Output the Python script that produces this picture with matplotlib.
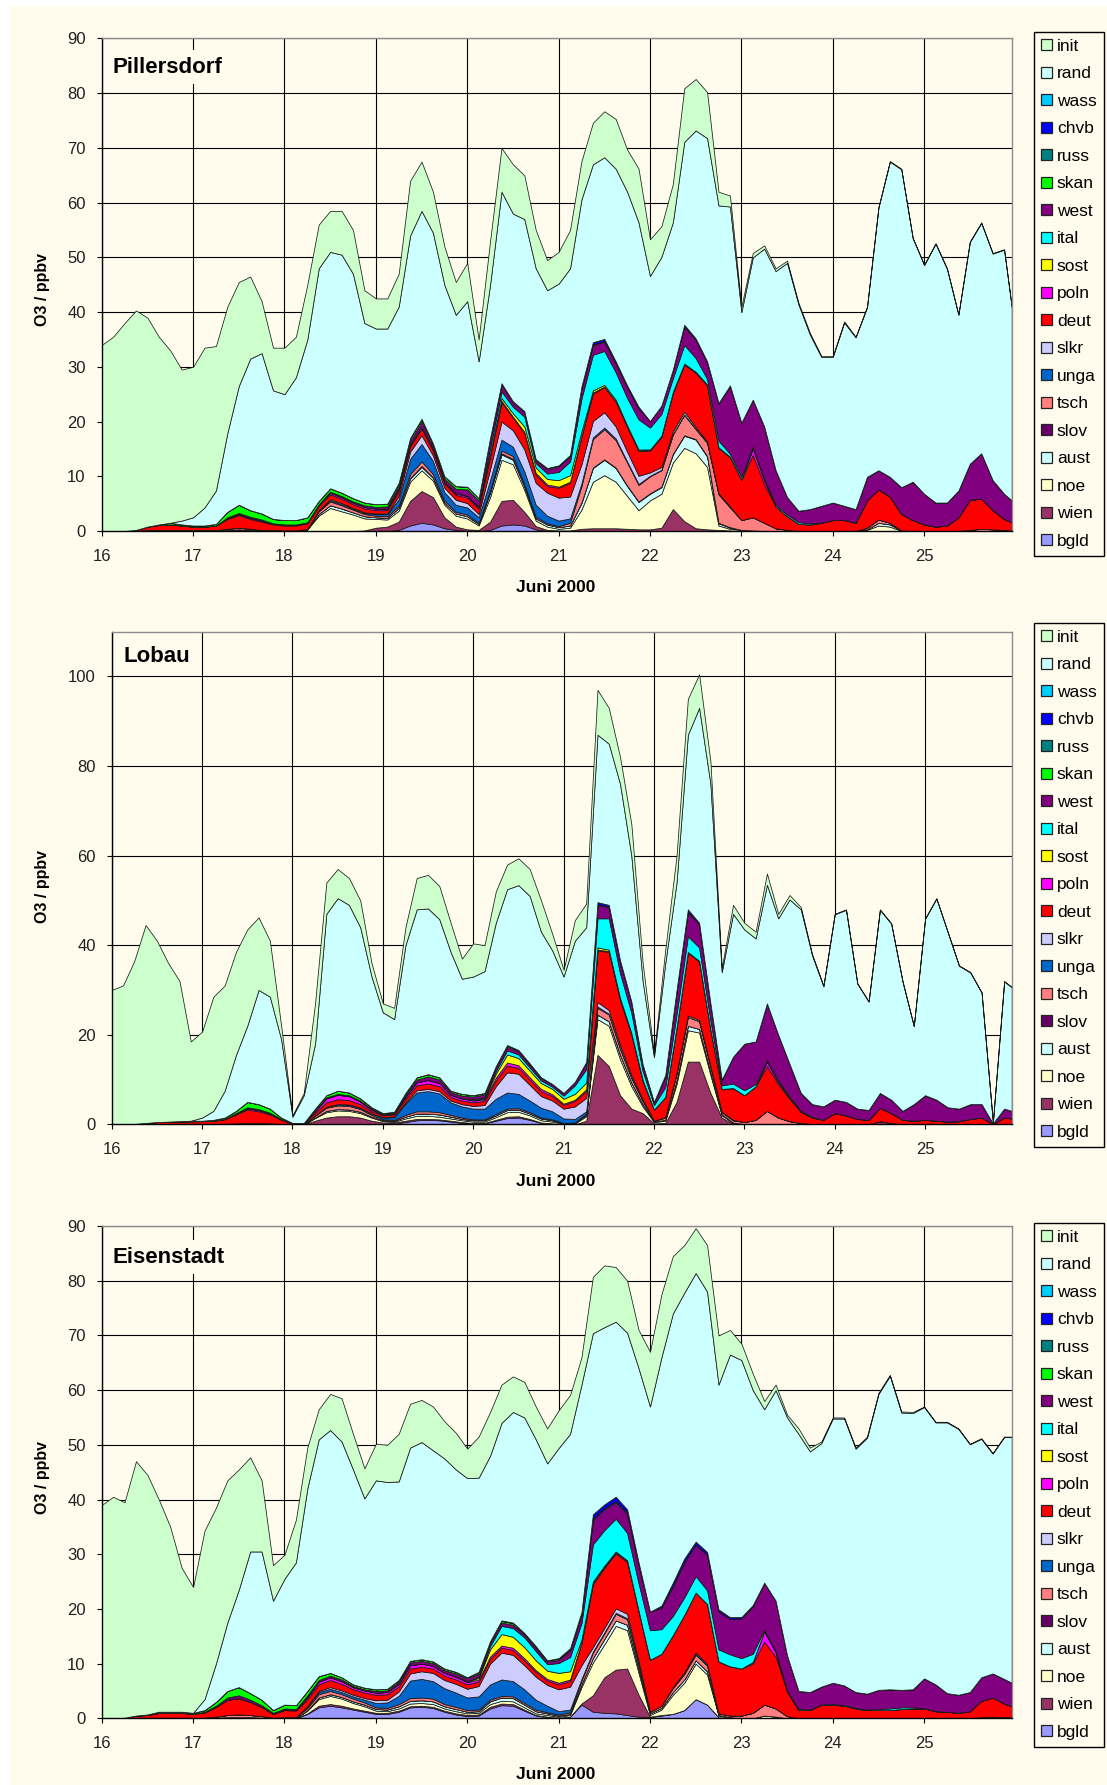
import numpy as np
import matplotlib
matplotlib.use("Agg")
import matplotlib.pyplot as plt
from matplotlib.patches import Patch, Rectangle

plt.rcParams['font.family'] = ['Liberation Sans', 'DejaVu Sans']

# ---------------- data ----------------
# samples every 3 hours from 16 June 00h to 25 June 23h
sample_hours = list(range(0, 240, 3)) + [239]
day_ticks = [16, 17, 18, 19, 20, 21, 22, 23, 24, 25]
legend_names = ['init', 'rand', 'wass', 'chvb', 'russ', 'skan', 'west', 'ital', 'sost',
                'poln', 'deut', 'slkr', 'unga', 'tsch', 'slov', 'aust', 'noe', 'wien', 'bgld']
legend_colors = ['#CCFFCC', '#CCFFFF', '#00CCFF', '#0000FF', '#008080', '#00FF00', '#800080',
                 '#00FFFF', '#FFFF00', '#FF00FF', '#FF0000', '#CCCCFF', '#0066CC', '#FF8080',
                 '#660066', '#CCFFFF', '#FFFFCC', '#993366', '#9999FF']
stations = ['Pillersdorf', 'Lobau', 'Eisenstadt']

# ---- Pillersdorf ----
p1_total = [34, 35.5, 38, 40.3, 39, 35.5, 33, 29.5,
            30, 33.5, 33.8, 41, 45.5, 46.5, 42, 33.5,
            33.5, 35.5, 45, 56, 58.5, 58.5, 55, 44,
            42.5, 42.5, 47, 64, 67.5, 62, 52, 45.5,
            49, 35, 53, 70, 67, 65, 55, 49.5,
            51, 55, 67.6, 74.6, 76.7, 75.3, 69.7, 66.2,
            53.3, 55.7, 63.4, 80.9, 82.6, 80.2, 62, 61.3,
            41, 50.8, 52.2, 48, 49.4, 41.7, 36.2, 32,
            32, 38.3, 35.5, 41, 59.2, 67.6, 66.2, 53.6,
            48.7, 52.6, 48, 39.6, 52.9, 56.4, 50.8, 51.5,
            41]
p1_init = [34, 35.5, 38, 40.1, 38.2, 34.3, 31.5, 27.6,
           27.5, 29.2, 26.4, 23.1, 19, 15, 9.5, 7.8,
           8.5, 7.4, 10, 8, 7.5, 8, 8, 6,
           5.5, 5.5, 6, 10, 9, 7.5, 7, 6,
           7, 4, 8, 8, 9, 8, 7, 5.5,
           5.8, 7, 7, 7.6, 8.4, 9.1, 7.7, 9.8,
           6.7, 5.6, 7, 9.8, 9.4, 8.4, 2.5, 2.0,
           1.0, 0.8, 0.6, 0.5, 0.4, 0.3, 0.3, 0.2,
           0.2, 0.2, 0.1, 0.1, 0.1, 0.1, 0.1, 0.1,
           0.1, 0.1, 0.1, 0.1, 0.1, 0.1, 0.1, 0.1,
           0.1]
p1_bgld = [0] * 24 + [0, 0, 0.2, 1.0, 1.5, 1.2, 0.5, 0.2,
                      0, 0, 0.2, 1.0, 1.2, 1.0, 0.3, 0] + [0] * 41
p1_wien = [0, 0, 0, 0, 0.1, 0.1, 0.1, 0.1,
           0.1, 0.1, 0.1, 0.2, 0.3, 0.2, 0.1, 0.1,
           0, 0, 0, 0, 0, 0, 0, 0.1,
           0.6, 0.8, 1.5, 4.5, 5.8, 5.0, 2.0, 0.6,
           0.3, 0.2, 1.5, 4.5, 4.5, 2.5, 0.6, 0.2,
           0.1, 0.1, 0.4, 0.5, 0.5, 0.5, 0.4, 0.3,
           0.3, 0.6, 4.0, 1.8, 0.5, 0.3, 0.2, 0.1] + [0] * 25
p1_noe = [0] * 16 + [0, 0, 0.3, 2.8, 4.2, 3.6, 3.0, 2.2,
                     1.6, 1.3, 2.0, 3.5, 3.8, 3.0, 2.3, 2.0,
                     2.0, 0.8, 4.5, 7.5, 6.5, 4.0, 1.0, 0.6,
                     0.3, 0.5, 3.5, 8.5, 9.7, 8.5, 6.0, 3.5,
                     5.3, 6.2, 8.5, 13.4, 13.7, 11.4, 0.8, 0.3,
                     0.2, 0.1, 0, 0, 0, 0, 0, 0,
                     0, 0, 0, 0.2, 1.0, 0.8, 0, 0] + [0] * 9
p1_aust = [0] * 16 + [0, 0, 0, 0.3, 0.5, 0.5, 0.4, 0.4,
                      0.3, 0.3, 0.5, 0.6, 0.6, 0.5, 0.4, 0.4,
                      0.4, 0.3, 0.8, 1.0, 0.8, 0.6, 0.4, 0.4,
                      0.3, 0.4, 1.2, 2.5, 2.8, 2.5, 1.8, 1.5,
                      1.2, 1.2, 1.5, 2.2, 2.5, 1.9, 0.4, 0.2,
                      0, 0, 0, 0, 0, 0, 0, 0,
                      0, 0, 0, 0.1, 0.5, 0.4, 0.1, 0] + [0] * 9
p1_slov = [0] * 24 + [0, 0, 0, 0.1, 0.2, 0.1, 0, 0,
                      0, 0, 0.1, 0.2, 0.2, 0.1, 0, 0,
                      0, 0, 0.1, 0.1, 0.1, 0.1, 0.1, 0.1,
                      0.1, 0.1, 0.1, 0.1, 0.1, 0.1, 0.1, 0.1] + [0] * 25
p1_tsch = [0, 0, 0, 0, 0.1, 0.1, 0.1, 0.1,
           0.1, 0.1, 0.1, 0.2, 0.3, 0.2, 0.1, 0.1,
           0.1, 0.1, 0.1, 0.5, 0.7, 0.6, 0.5, 0.4,
           0.3, 0.3, 0.4, 0.7, 0.8, 0.6, 0.4, 0.3,
           0.3, 0.2, 0.4, 0.5, 0.5, 0.4, 0.3, 0.2,
           0.2, 0.5, 3.0, 5.2, 5.5, 5.0, 4.2, 3.0,
           3.1, 3.0, 3.5, 3.7, 1.8, 2.4, 5.2, 3.6,
           1.8, 2.4, 1.5, 0.5, 0.2, 0, 0, 0,
           0, 0, 0, 0.3, 0.6, 0.3, 0, 0,
           0, 0, 0, 0, 0.2, 0.4, 0.3, 0.2,
           0.1]
p1_unga = [0] * 16 + [0, 0, 0, 0.1, 0.2, 0.2, 0.2, 0.2,
                      0.3, 0.4, 1.2, 2.8, 3.2, 2.4, 1.5, 1.3,
                      1.3, 1.0, 1.8, 2.0, 1.7, 2.3, 2.2, 1.4,
                      1.0, 0.8, 0.5, 0.3, 0.3, 0.3, 0.2, 0.2,
                      0.1, 0.1, 0.1, 0.1, 0.1, 0.1, 0.1, 0.1] + [0] * 25
p1_slkr = [0] * 16 + [0, 0, 0, 0.1, 0.2, 0.2, 0.1, 0.1,
                      0.1, 0.1, 0.6, 1.3, 1.6, 1.0, 0.8, 0.9,
                      0.8, 0.6, 2.0, 3.3, 3.0, 4.0, 4.0, 4.2,
                      4.2, 4.0, 3.5, 3.0, 2.8, 2.2, 1.8, 1.5,
                      0.6, 0.5, 0.5, 0.5, 0.3, 0.2, 0.1, 0.1] + [0] * 25
p1_deut = [0, 0, 0, 0.2, 0.6, 0.9, 1.0, 0.8,
           0.6, 0.6, 0.8, 1.8, 2.3, 1.8, 1.5, 1.0,
           0.9, 0.9, 1.0, 0.8, 0.9, 0.8, 0.7, 0.7,
           0.6, 0.6, 0.9, 1.0, 1.2, 0.9, 0.8, 0.9,
           1.0, 1.0, 2.3, 3.5, 2.3, 3.0, 1.5, 1.2,
           1.8, 2.5, 5.0, 5.0, 4.6, 4.5, 4.5, 4.5,
           4.0, 5.5, 7.0, 8.6, 9.9, 10.2, 8.3, 9.0,
           7.4, 11.4, 7.0, 4.0, 2.5, 1.3, 1.2, 1.5,
           2.0, 2.0, 1.5, 5.0, 5.5, 4.8, 3.0, 2.0,
           1.2, 0.8, 1.0, 2.5, 5.5, 5.5, 3.5, 2.0,
           1.5]
p1_poln = [0] * 8 + [0, 0, 0, 0.1, 0.2, 0.2, 0.2, 0.1,
                     0.1, 0.1, 0.1, 0.2, 0.3, 0.3, 0.3, 0.3,
                     0.3, 0.3, 0.4, 0.3, 0.3, 0.3, 0.3, 0.3,
                     0.3, 0.3, 0.3, 0.3, 0.2, 0.2, 0.3, 0.3,
                     0.2, 0.2, 0.2, 0.2, 0.1, 0.1, 0.1, 0.1,
                     0.1, 0.1, 0.1, 0.1, 0.1, 0.1, 0.1, 0.1,
                     0, 1.2, 0.8, 0, 0, 0, 0, 0] + [0] * 17
p1_sost = [0] * 32 + [0, 0, 0.2, 0.5, 0.6, 1.0, 1.0, 1.0,
                      1.2, 1.2, 0.8, 0.4, 0.3, 0.3, 0.2, 0.2,
                      0.1, 0.1, 0.1, 0.1, 0.1, 0.1, 0, 0] + [0] * 25
p1_ital = [0] * 32 + [0, 0, 1.0, 1.2, 1.2, 1.8, 0.8, 1.0,
                      1.5, 2.5, 6.0, 6.5, 6.2, 5.0, 5.0, 5.5,
                      4.0, 4.0, 2.5, 3.4, 2.5, 1.0, 1.2, 0.5,
                      0.5, 0.3, 0.3, 0.3, 0.3, 0.3, 0.2, 0] + [0] * 17
p1_west = [0] * 8 + [0, 0, 0, 0.2, 0.2, 0.2, 0.2, 0.1,
                     0.1, 0.1, 0.1, 0.1, 0.2, 0.2, 0.2, 0.3,
                     0.3, 0.4, 0.6, 0.7, 1.0, 0.6, 0.6, 0.8,
                     1.2, 1.2, 1.6, 1.2, 0.8, 0.8, 0.5, 0.8,
                     1.0, 1.0, 1.8, 1.8, 1.7, 1.6, 2.0, 2.0,
                     1.2, 1.5, 1.5, 3.4, 3.4, 3.0, 6.8, 12.4,
                     9.9, 8.6, 9.5, 6.3, 3.2, 2.1, 2.6, 3.1,
                     3.2, 2.6, 2.5, 4.3, 3.5, 3.6, 4.9, 7.0,
                     5.6, 4.4, 4.2, 4.9, 6.6, 8.3, 5.5, 4.6,
                     4.0]
p1_skan = [0, 0, 0, 0, 0, 0.1, 0.3, 0.2,
           0.2, 0.2, 0.3, 1.0, 1.5, 1.2, 1.1, 0.8,
           0.8, 0.8, 0.9, 0.6, 0.6, 0.6, 0.6, 0.5,
           0.5, 0.5, 0.5, 0.5, 0.5, 0.4, 0.4, 0.5,
           0.5, 0.4, 0.3, 0.3, 0.2, 0.2, 0.2, 0.2,
           0.1, 0.1, 0.1, 0.1, 0.1, 0.1, 0.1, 0.1] + [0] * 33
p1_russ = [0] * 81
p1_chvb = [0] * 40 + [0.1, 0.1, 0.3, 0.4, 0.4, 0.3, 0.2, 0.2,
                      0, 0, 0.1, 0.3, 0.2, 0.2, 0.1, 0.1] + [0] * 25
p1_wass = [0] * 81

# ---- Lobau ----
p2_total = [30, 31, 36.5, 44.5, 41, 36, 32, 18.5,
            20.7, 28.5, 31, 38.5, 43.5, 46.2, 41, 22,
            2, 7, 27, 54, 57, 55, 50, 36,
            27, 26, 44, 55, 55.7, 53.2, 45, 37,
            40.4, 40, 52, 58, 59.4, 57, 50, 42.5,
            34.5, 45.6, 49.3, 97, 93, 82, 67, 36,
            15.8, 39, 60, 95, 100.5, 81, 35, 49,
            45, 43, 56, 47, 51.2, 48.5, 38, 31,
            47, 48, 31.5, 27.5, 48, 44.9, 32, 22,
            46, 50.5, 43, 35.5, 34, 29.5, 0.5, 32,
            30.7]
p2_init = [30, 31, 36.4, 44.2, 40.5, 35.4, 31.3, 17.7,
           19.2, 25.5, 23.5, 23, 21.5, 16.2, 12.5, 3,
           0.3, 0.5, 9, 7, 6.5, 6, 6, 3,
           2, 2.5, 4, 7, 7.5, 7.4, 6.5, 4.5,
           7.4, 5.8, 7, 5.5, 6, 6, 7, 3.7,
           1.5, 4.6, 5.3, 10, 8, 6, 7, 4,
           0.8, 3, 6, 8, 7.5, 5, 1, 2,
           1.5, 1.5, 2.5, 1, 1, 0.5, 0.3, 0.2] + [0.1] * 17
p2_bgld = [0] * 24 + [0.1, 0.1, 0.5, 0.9, 1.0, 0.9, 0.6, 0.3,
                      0.2, 0.2, 0.8, 1.4, 1.5, 1.0, 0.3, 0.1] + [0] * 41
p2_wien = [0] * 16 + [0, 0, 0.8, 1.5, 1.8, 1.8, 1.5, 0.8,
                      0.3, 0.3, 0.3, 0.3, 0.2, 0.2, 0.2, 0.2,
                      0.1, 0.1, 0.2, 0.3, 0.3, 0.2, 0.1, 0.1,
                      0, 0, 0.8, 15.5, 13, 6.5, 3.5, 2.5,
                      0.2, 0.3, 5.0, 14, 14, 7, 1.5, 0.1,
                      0, 0, 0, 0, 0, 0, 0, 0,
                      0, 0, 0, 0, 0.7, 0.3, 0, 0] + [0] * 9
p2_noe = [0] * 16 + [0, 0, 0.6, 1.2, 1.3, 1.2, 1.0, 0.7,
                     0.3, 0.2, 0.5, 0.7, 0.7, 0.6, 0.5, 0.4,
                     0.3, 0.3, 0.6, 1.0, 1.0, 0.8, 0.5, 0.4,
                     0.1, 0.2, 1.0, 8.0, 9.0, 8.0, 5.0, 1.5,
                     0.3, 0.5, 4.0, 7.0, 6.5, 4.0, 0.5, 0.2] + [0] * 25
p2_aust = [0] * 16 + [0, 0, 0.1, 0.3, 0.3, 0.3, 0.3, 0.2,
                      0.2, 0.2, 0.4, 0.5, 0.5, 0.5, 0.4, 0.3,
                      0.3, 0.3, 0.4, 0.5, 0.5, 0.4, 0.4, 0.3,
                      0.1, 0.1, 0.3, 1.0, 1.0, 1.0, 0.8, 0.5,
                      0.1, 0.2, 0.8, 1.0, 0.8, 0.6, 0.2, 0.1] + [0] * 25
p2_slov = [0] * 81
p2_tsch = [0, 0, 0, 0.1, 0.1, 0.1, 0.1, 0.1,
           0.1, 0.1, 0.1, 0.2, 0.3, 0.3, 0.2, 0.1,
           0, 0, 0.4, 0.7, 0.8, 0.8, 0.6, 0.4,
           0.2, 0.2, 0.4, 0.5, 0.5, 0.5, 0.4, 0.3,
           0.2, 0.2, 0.3, 0.3, 0.3, 0.3, 0.2, 0.2,
           0.1, 0.1, 0.3, 1.5, 1.5, 1.3, 1.0, 0.7,
           0.2, 0.5, 1.5, 2.0, 1.7, 1.2, 0.5, 0.5,
           0.5, 1.0, 3.0, 1.5, 0.7, 0.3, 0, 0] + [0] * 17
p2_unga = [0] * 16 + [0, 0, 0.1, 0.2, 0.3, 0.3, 0.3, 0.3,
                      0.4, 0.6, 2.5, 4.2, 4.5, 4.2, 2.8, 2.5,
                      2.4, 2.4, 3.4, 3.6, 3.2, 2.6, 2.2, 1.8,
                      1.0, 0.8, 0.5, 0.3, 0.2, 0.2, 0.2, 0.1] + [0] * 33
p2_slkr = [0] * 24 + [0.1, 0.1, 0.3, 0.5, 0.5, 0.5, 0.4, 0.5,
                      0.6, 0.8, 2.8, 4.5, 4.5, 3.5, 2.6, 2.4,
                      2.2, 2.8, 3.0, 1.0, 0.8, 0.7, 0.5, 0.3,
                      0, 0.1, 0.2, 0.3, 0.3, 0.2, 0.1, 0.1] + [0] * 25
p2_deut = [0, 0, 0.1, 0.2, 0.4, 0.5, 0.5, 0.6,
           0.6, 0.7, 1.0, 2.0, 3.0, 2.6, 2.0, 0.9,
           0.2, 0.2, 0.6, 1.0, 1.1, 1.0, 0.8, 0.5,
           0.4, 0.5, 0.8, 1.1, 1.2, 1.1, 0.8, 0.8,
           0.8, 0.9, 1.3, 1.5, 1.3, 1.2, 1.1, 1.0,
           0.8, 1.2, 1.6, 11.5, 13, 10, 9, 4,
           2.5, 4.5, 10, 14, 13, 8, 5, 7,
           6.0, 7.5, 10, 7.5, 5.0, 2.5, 1.5, 1.0,
           2.5, 2.0, 1.2, 1.0, 3.0, 2.2, 1.0, 0.8,
           1.0, 0.8, 0.6, 0.7, 1.2, 1.5, 0.1, 1.5,
           1.3]
p2_poln = [0] * 8 + [0, 0, 0.1, 0.2, 0.3, 0.3, 0.2, 0.1,
                     0, 0, 0.4, 0.9, 1.0, 0.9, 0.6, 0.4,
                     0.2, 0.2, 0.5, 0.7, 0.8, 0.7, 0.5, 0.5,
                     0.4, 0.4, 0.6, 0.7, 0.6, 0.5, 0.5, 0.4,
                     0.3, 0.3, 0.3, 0.2, 0.2, 0.2, 0.2, 0.1,
                     0, 0, 0.1, 0.2, 0.2, 0.2, 0.1, 0.1,
                     0, 0, 1.0, 0.5, 0.2, 0, 0, 0] + [0] * 17
p2_sost = [0] * 32 + [0.1, 0.2, 0.9, 1.8, 1.6, 1.5, 1.3, 1.2,
                      1.1, 1.3, 1.5, 0.5, 0.3, 0.3, 0.2, 0.2] + [0] * 33
p2_ital = [0] * 32 + [0.2, 0.2, 0.6, 0.9, 0.8, 0.7, 0.6, 0.5,
                      0.7, 1.9, 3.0, 6.5, 7.0, 5.5, 4.5, 2.0,
                      1.0, 2.2, 3.0, 3.5, 3.0, 2.0, 0.8, 1.0,
                      1.1, 0.5, 0.3, 0.3, 0.3, 0.2, 0.1, 0] + [0] * 17
p2_west = [0] * 8 + [0, 0, 0, 0.1, 0.2, 0.2, 0.2, 0.1,
                     0, 0, 0.1, 0.2, 0.2, 0.2, 0.2, 0.2,
                     0.1, 0.2, 0.4, 0.6, 0.8, 0.8, 0.6, 0.6,
                     0.6, 0.7, 0.8, 0.8, 0.7, 0.6, 0.5, 0.5,
                     0.5, 0.7, 1.4, 3.0, 2.5, 2.5, 2.3, 1.3,
                     0.7, 2.4, 4.9, 5.5, 5.2, 3.8, 1.2, 6.0,
                     10.4, 9.5, 12.7, 10.2, 7.3, 4.0, 2.9, 3.0,
                     3.0, 3.0, 2.3, 2.2, 3.3, 3.0, 2.0, 3.7,
                     5.5, 4.7, 3.2, 2.8, 3.3, 3.0, 0.1, 2.0,
                     1.7]
p2_skan = [0, 0, 0, 0, 0, 0, 0.1, 0.1,
           0.1, 0.2, 0.3, 0.5, 1.2, 1.1, 0.9, 0.3,
           0.1, 0.1, 0.4, 0.5, 0.7, 0.6, 0.5, 0.3,
           0.2, 0.2, 0.4, 0.5, 0.5, 0.5, 0.3, 0.4,
           0.3, 0.3, 0.3, 0.3, 0.2, 0.2, 0.2, 0.1,
           0.1, 0.1, 0.1, 0.1, 0.1, 0.1, 0.1, 0.1] + [0] * 33
p2_russ = [0] * 81
p2_chvb = [0] * 32 + [0, 0, 0, 0.1, 0.1, 0.1, 0, 0,
                      0, 0, 0.1, 0.5, 0.4, 0.3, 0.1, 0.1,
                      0, 0.3, 0.5, 0.5, 0.3, 0, 0.1, 0] + [0] * 25
p2_wass = [0] * 81

# ---- Eisenstadt ----
p3_total = [39, 40.5, 39.5, 47, 44.5, 40, 35, 27.5,
            24, 34.3, 38.5, 43.5, 45.5, 47.7, 43.5, 28,
            29.9, 36.3, 49.5, 56.5, 59.3, 58.5, 52, 45.7,
            50.2, 50, 52, 57.5, 58.2, 57, 54.3, 52.2,
            49.3, 51.5, 56, 61, 62.5, 61.5, 57, 53,
            56.3, 59.1, 66, 80.7, 82.8, 82.5, 80, 71,
            67, 77.5, 84.5, 86.5, 89.6, 86.5, 70, 71,
            68.5, 63, 58, 61, 55.5, 53, 49.5, 50.6,
            55, 55, 49.5, 51.5, 59.5, 62.8, 56.1, 56,
            57, 54.2, 54.2, 53, 50.2, 51.2, 48.5, 51.5,
            51.5]
p3_init = [39, 40.5, 39.4, 46.5, 43.8, 38.8, 33.8, 26.3,
           23, 30.8, 28.5, 26, 22, 17.2, 13, 6.5,
           4.4, 7.8, 7.5, 5.5, 6.6, 7.9, 6.5, 5.5,
           6.7, 6.8, 8.7, 8, 7.7, 8, 6.8, 6.7,
           5.4, 7.5, 8, 7, 6.5, 6.5, 6, 6.4,
           6.9, 7.1, 5, 10.3, 11.3, 10, 9.5, 7,
           10, 11.5, 10.5, 8.7, 8.2, 8.5, 9, 4.5,
           3, 3, 1.5, 1, 0.5, 1, 0.7, 0.3,
           0.2, 0.2, 0.2, 0.2, 0.2, 0.2, 0.2, 0.2,
           0.1, 0.1, 0.1, 0.1, 0.1, 0.1, 0.1, 0.1,
           0.1]
p3_bgld = [0] * 16 + [0, 0, 0.8, 2.0, 2.3, 2.0, 1.6, 1.2,
                      0.8, 0.8, 1.2, 2.0, 2.1, 1.9, 1.2, 0.7,
                      0.4, 0.5, 1.8, 2.4, 2.3, 1.4, 0.5, 0.2,
                      0.1, 0.3, 2.5, 1.2, 1.0, 0.9, 0.6, 0.3,
                      0.2, 0.5, 0.8, 1.5, 3.5, 2.5, 0.2, 0] + [0] * 25
p3_wien = [0] * 8 + [0, 0, 0.1, 0.2, 0.2, 0.2, 0.1, 0,
                     0, 0, 0.1, 0.3, 0.3, 0.3, 0.2, 0.2,
                     0.2, 0.2, 0.2, 0.2, 0.2, 0.2, 0.2, 0.2,
                     0.2, 0.2, 0.3, 0.3, 0.3, 0.2, 0.1, 0.1,
                     0, 0, 0.2, 3.0, 6.5, 8.0, 8.5, 4.0,
                     0.1, 0.1, 0, 0, 0, 0, 0, 0] + [0] * 25
p3_noe = [0] * 16 + [0, 0, 0.5, 1.2, 1.5, 1.3, 1.0, 0.8,
                     0.4, 0.3, 0.4, 0.5, 0.5, 0.5, 0.4, 0.4,
                     0.3, 0.3, 0.5, 0.5, 0.5, 0.4, 0.3, 0.3,
                     0.2, 0.3, 3.0, 6.0, 6.0, 8.0, 7.0, 4.0,
                     0.3, 1.0, 3.5, 5.0, 6.5, 5.5, 0.3, 0.1,
                     0, 0, 0.5, 0.3, 0, 0, 0, 0] + [0] * 17
p3_aust = [0] * 16 + [0, 0, 0.1, 0.3, 0.3, 0.3, 0.3, 0.3,
                      0.3, 0.3, 0.4, 0.5, 0.5, 0.5, 0.4, 0.4,
                      0.3, 0.3, 0.5, 0.6, 0.6, 0.5, 0.4, 0.3,
                      0.2, 0.2, 0.5, 0.8, 1.0, 1.0, 1.0, 0.7,
                      0.3, 0.3, 0.5, 0.6, 0.6, 0.6, 0.1, 0.1] + [0] * 25
p3_slov = [0] * 81
p3_tsch = [0, 0, 0, 0.1, 0.1, 0.1, 0.1, 0.1,
           0.1, 0.1, 0.2, 0.4, 0.5, 0.4, 0.3, 0.1,
           0.2, 0.2, 0.4, 0.6, 0.6, 0.5, 0.5, 0.4,
           0.3, 0.3, 0.4, 0.5, 0.5, 0.5, 0.4, 0.4,
           0.3, 0.3, 0.3, 0.3, 0.3, 0.3, 0.3, 0.2,
           0.2, 0.3, 0.7, 1.0, 1.0, 1.2, 1.0, 0.8,
           0.3, 0.4, 0.7, 1.0, 1.0, 1.0, 0.3, 0.3,
           0.5, 1.0, 2.0, 1.5, 0.4, 0, 0, 0,
           0, 0, 0, 0, 0, 0, 0, 0,
           0, 0, 0, 0, 0, 0.2, 0.3, 0.2,
           0.2]
p3_unga = [0] * 16 + [0, 0, 0.2, 0.4, 0.4, 0.4, 0.4, 0.5,
                      0.8, 1.0, 1.5, 3.2, 3.4, 3.2, 2.9, 2.6,
                      2.3, 2.4, 2.8, 3.0, 2.8, 2.5, 1.8, 1.2,
                      0.6, 0.5, 0.3, 0.2, 0.2, 0.2, 0.2, 0.2,
                      0, 0, 0.2, 0.3, 0.4, 0.3, 0, 0] + [0] * 25
p3_slkr = [0] * 16 + [0, 0, 0.1, 0.2, 0.3, 0.3, 0.3, 0.3,
                      0.5, 0.5, 0.8, 1.3, 1.4, 1.5, 1.5, 1.6,
                      1.6, 1.9, 3.8, 4.9, 4.8, 4.4, 4.2, 3.8,
                      4.0, 4.2, 2.5, 0.8, 0.8, 0.8, 0.8, 0.5] + [0] * 33
p3_deut = [0, 0, 0.1, 0.4, 0.5, 0.9, 0.9, 0.9,
           0.7, 1.0, 1.8, 2.8, 3.0, 2.4, 1.7, 0.7,
           1.3, 1.2, 1.3, 1.2, 1.3, 1.2, 1.0, 1.0,
           1.0, 1.0, 0.9, 0.9, 0.8, 0.8, 0.8, 0.8,
           0.8, 0.8, 0.9, 0.9, 0.9, 0.9, 0.9, 0.8,
           0.9, 1.0, 4.0, 11.5, 11.0, 10.0, 9.5, 9.0,
           9.5, 9.5, 9.5, 10.5, 11, 11, 9.5, 9.0,
           8.6, 9.0, 11.5, 9.5, 4.5, 1.5, 1.5, 2.5,
           2.5, 2.3, 1.8, 1.5, 1.5, 1.5, 1.7, 1.8,
           1.8, 1.3, 1.2, 1.0, 1.3, 3.0, 3.5, 2.5,
           2.0]
p3_poln = [0] * 16 + [0.1, 0.1, 0.4, 0.5, 0.5, 0.5, 0.4, 0.4,
                      0.4, 0.4, 0.5, 0.6, 0.6, 0.5, 0.5, 0.5,
                      0.4, 0.4, 0.4, 0.4, 0.4, 0.4, 0.3, 0.3,
                      0.3, 0.3, 0.2, 0.2, 0.2, 0.2, 0.2, 0.1,
                      0, 0, 0, 0, 0, 0, 0, 0,
                      0, 0.3, 1.9, 0.8, 0, 0, 0, 0] + [0] * 17
p3_sost = [0] * 32 + [0.1, 0.3, 1.3, 2.1, 2.0, 2.0, 1.8, 1.5,
                      1.8, 1.5, 0.5, 0.3, 0.2, 0.2, 0.1, 0.1] + [0] * 33
p3_ital = [0] * 24 + [0, 0, 0, 0, 0, 0, 0, 0.1,
                      0.1, 0.2, 0.6, 1.5, 1.6, 1.8, 1.7, 1.2,
                      1.8, 2.6, 3.0, 6.8, 6.5, 6.0, 5.0, 5.0,
                      5.4, 4.5, 3.5, 3.2, 3.0, 2.5, 2.2, 2.2,
                      1.9, 1.5, 0.3, 0.2, 0.2, 0.2, 0.1, 0,
                      0.1, 0.1, 0.1, 0.1, 0.2, 0.3, 0.3, 0.2] + [0] * 9
p3_west = [0] * 8 + [0, 0.1, 0.2, 0.4, 0.5, 0.4, 0.3, 0.2,
                     0.2, 0.2, 0.3, 0.3, 0.3, 0.3, 0.2, 0.2,
                     0.3, 0.3, 0.4, 0.5, 0.5, 0.5, 0.5, 0.5,
                     0.5, 0.6, 0.6, 0.6, 0.6, 0.5, 0.6, 0.5,
                     0.6, 1.2, 1.5, 4.5, 3.8, 3.0, 3.5, 3.2,
                     3.4, 4.0, 5.5, 6.5, 5.8, 6.5, 7.0, 6.5,
                     7.3, 8.7, 8.6, 9.2, 6.4, 3.3, 3.2, 3.3,
                     3.9, 3.6, 2.9, 2.9, 3.5, 3.5, 3.2, 3.3,
                     5.5, 4.9, 3.4, 3.3, 3.5, 4.3, 4.4, 4.5,
                     4.3]
p3_skan = [0, 0, 0, 0, 0.1, 0.2, 0.2, 0.2,
           0.2, 0.3, 0.7, 1.2, 1.5, 1.2, 1.0, 0.5,
           0.7, 0.7, 0.8, 0.7, 0.5, 0.4, 0.3, 0.3,
           0.3, 0.3, 0.3, 0.3, 0.3, 0.3, 0.3, 0.3,
           0.2, 0.3, 0.3, 0.3, 0.3, 0.2, 0.2, 0.2,
           0.2, 0.2, 0.2, 0.2, 0.2, 0.2, 0.2, 0.1] + [0] * 33
p3_russ = [0] * 81
p3_chvb = [0] * 32 + [0, 0, 0, 0.1, 0.1, 0.1, 0.1, 0,
                      0.1, 0.2, 0.3, 0.8, 0.7, 0.8, 0.6, 0.5,
                      0, 0.3, 0.6, 0.6, 0.5, 0.5, 0.3, 0.3,
                      0.2, 0.2, 0, 0, 0, 0, 0, 0] + [0] * 17
p3_wass = [0] * 81

# ---------------- drawing ----------------
W, H = 1107, 1785
CREAM = '#FFFCEE'
t = 16 + np.array(sample_hours) / 24.0


def fig_rect(l, tp, r, b):
    return [l / W, 1 - b / H, (r - l) / W, (b - tp) / H]


panel_data = [
    dict(total=p1_total, init=p1_init,
         small=[p1_bgld, p1_wien, p1_noe, p1_aust, p1_slov, p1_tsch, p1_unga, p1_slkr, p1_deut,
                p1_poln, p1_sost, p1_ital, p1_west, p1_skan, p1_russ, p1_chvb, p1_wass]),
    dict(total=p2_total, init=p2_init,
         small=[p2_bgld, p2_wien, p2_noe, p2_aust, p2_slov, p2_tsch, p2_unga, p2_slkr, p2_deut,
                p2_poln, p2_sost, p2_ital, p2_west, p2_skan, p2_russ, p2_chvb, p2_wass]),
    dict(total=p3_total, init=p3_init,
         small=[p3_bgld, p3_wien, p3_noe, p3_aust, p3_slov, p3_tsch, p3_unga, p3_slkr, p3_deut,
                p3_poln, p3_sost, p3_ital, p3_west, p3_skan, p3_russ, p3_chvb, p3_wass]),
]

layout = [
    dict(rect=fig_rect(101.7, 38.5, 1011.7, 531), ymax=90, ystep=10, leg_top=32,
         ylab_y=289, xlab_y=588, title_xy=(0.0124, 0.942)),
    dict(rect=fig_rect(111.7, 631.7, 1011.7, 1124.3), ymax=110, ystep=20, leg_top=623,
         ylab_y=886, xlab_y=1181, title_xy=(0.0126, 0.949)),
    dict(rect=fig_rect(101.7, 1226, 1011.7, 1718.3), ymax=90, ystep=10, leg_top=1223,
         ylab_y=1478, xlab_y=1774, title_xy=(0.0124, 0.937)),
]

stack_colors = legend_colors[::-1]  # bottom (bgld) ... top (init)

fig = plt.figure(figsize=(W / 100, H / 100), dpi=100, facecolor=CREAM)
fig.patches.append(Rectangle((0, 0), 10 / W, 1, transform=fig.transFigure,
                             facecolor='white', edgecolor='none', zorder=0))
fig.patches.append(Rectangle((0, 1 - 6 / H), 1, 6 / H, transform=fig.transFigure,
                             facecolor='white', edgecolor='none', zorder=0))

for name, d, lay in zip(stations, panel_data, layout):
    ax = fig.add_axes(lay['rect'])
    ax.set_facecolor(CREAM)
    small = [np.array(s, dtype=float) for s in d['small']]
    total = np.array(d['total'], dtype=float)
    init = np.array(d['init'], dtype=float)
    for s in small:
        assert len(s) == len(t), (name, len(s))
    small_sum = np.sum(small, axis=0)
    rand = np.clip(total - init - small_sum, 0, None)
    layers = small + [rand, init]
    ax.stackplot(t, *layers, colors=stack_colors, edgecolor='#1a1a1a', linewidth=0.55, zorder=2)

    ax.set_xlim(16, t[-1])
    ax.set_ylim(0, lay['ymax'])
    ax.set_xticks(day_ticks)
    ax.set_yticks(list(range(0, lay['ymax'] + 1, lay['ystep'])) if lay['ymax'] % lay['ystep'] == 0
                  else list(range(0, lay['ymax'], lay['ystep'])))
    ax.grid(True, color='black', linewidth=0.8, zorder=0)
    ax.set_axisbelow(True)
    for sp in ['top', 'right']:
        ax.spines[sp].set_color('#8c8c8c')
        ax.spines[sp].set_linewidth(1.0)
    for sp in ['left', 'bottom']:
        ax.spines[sp].set_color('black')
        ax.spines[sp].set_linewidth(1.0)
    ax.tick_params(axis='x', direction='out', length=3.5, width=0.8, labelsize=12, pad=9.5,
                   colors='black')
    ax.tick_params(axis='y', direction='out', length=3.5, width=0.8, labelsize=12, pad=8,
                   colors='black')
    for lab in ax.get_xticklabels() + ax.get_yticklabels():
        lab.set_color('#202020')

    ax.text(lay['title_xy'][0], lay['title_xy'][1], name, transform=ax.transAxes,
            fontsize=16, fontweight='bold', ha='left', va='center', zorder=6,
            bbox=dict(facecolor=CREAM, edgecolor='none', pad=5))

    fig.text(43 / W, 1 - lay['ylab_y'] / H, 'O3 / ppbv', rotation=90, fontsize=11.5,
             fontweight='bold', ha='center', va='center')
    fig.text(556 / W, 1 - lay['xlab_y'] / H, 'Juni 2000', fontsize=12.5,
             fontweight='bold', ha='center', va='center')

    handles = [Patch(facecolor=c, edgecolor='#222222', linewidth=0.9) for c in legend_colors]
    leg = fig.legend(handles, legend_names, loc='upper left',
                     bbox_to_anchor=(1034 / W, 1 - lay['leg_top'] / H),
                     frameon=True, fancybox=False, fontsize=12.5,
                     handlelength=0.62, handleheight=0.62, handletextpad=0.3,
                     labelspacing=0.72, borderpad=0.4, borderaxespad=0.0,
                     facecolor=CREAM, edgecolor='black', framealpha=1)
    leg.get_frame().set_linewidth(1.0)

fig.savefig('out.png', dpi=100, facecolor=CREAM)
